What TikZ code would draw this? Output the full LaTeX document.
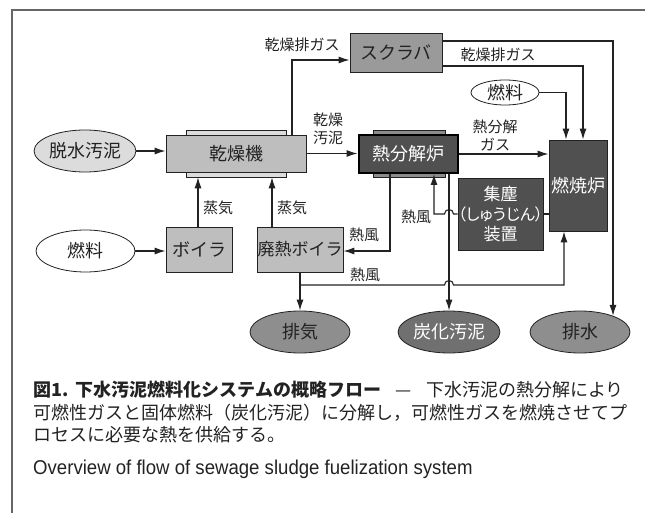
\documentclass[tikz,border=0pt]{standalone}
\usepackage{fontspec}
\usetikzlibrary{arrows.meta,shapes.geometric}
\newfontfamily\jp{Noto Sans CJK JP}
\newfontfamily\jpp[RawFeature=+palt]{Noto Sans CJK JP}
\newfontfamily\en[FakeStretch=0.93]{Liberation Sans}
\definecolor{cLight}{HTML}{BEBEBE}
\definecolor{cPale}{HTML}{DCDCDC}
\definecolor{cMid}{HTML}{9A9A9A}
\definecolor{cDark}{HTML}{505050}
\definecolor{cOut}{HTML}{8C8C8C}
\definecolor{cEll}{HTML}{8E8E8E}
\definecolor{cEllD}{HTML}{707070}
\definecolor{cInk}{HTML}{222222}
\definecolor{cFrame}{HTML}{666666}
\tikzset{
  base/.style={draw=cInk, line width=0.8pt, inner sep=0pt, text=cInk,
    font=\jp\fontsize{18}{20}\selectfont},
  lightbox/.style={base, rectangle, fill=cLight},
  midbox/.style={base, rectangle, fill=cMid},
  darkbox/.style={base, rectangle, fill=cDark, text=white},
  outerbox/.style={draw=cInk, line width=0.6pt, rectangle, inner sep=0pt},
  ell/.style={base, ellipse, minimum width=99pt, minimum height=42pt},
  arr/.style={-{Latex[length=11pt,width=7pt]}, line width=1.1pt, draw=cInk},
  plain/.style={line width=1.1pt, draw=cInk},
  lbl/.style={font=\jp\fontsize{15}{18}\selectfont, text=cInk, inner sep=0pt, align=center},
  captext/.style={anchor=west, inner sep=0pt, text=cInk, font=\jp\fontsize{18}{21}\selectfont}
}
\begin{document}
\begin{tikzpicture}[x=1pt,y=-1pt]
\useasboundingbox (0,0) rectangle (645,513);
% frame
\draw[line width=1.3pt, draw=cFrame] (12,513) -- (12,10) -- (645,10);

% outer rectangles
\node[outerbox, fill=cPale, minimum width=100pt, minimum height=47pt] (kouter) at (236,153.5) {};
\node[outerbox, fill=cOut, minimum width=72pt, minimum height=47pt] (nouter) at (409,153.5) {};

% boxes
\node[lightbox, minimum width=140pt, minimum height=37pt] (kansoki) at (236,153.5) {乾燥機};
\node[midbox, minimum width=92pt, minimum height=39pt] (scrub) at (396,52.5) {スクラバ};
\node[darkbox, line width=2pt, draw=black, minimum width=99pt, minimum height=38pt] (netsubun) at (408,154) {熱分解炉};
\node[darkbox, minimum width=58pt, minimum height=91pt] (nensho) at (578,185.5) {燃焼炉};
\node[darkbox, minimum width=85pt, minimum height=72pt, align=center,
  font=\jp\fontsize{17}{20}\selectfont] (shujin) at (500.5,214)
  {集塵\\{\jpp\fontsize{16}{20}\selectfont（しゅうじん）}\\装置};
\node[lightbox, minimum width=66pt, minimum height=45pt] (boiler) at (199,249.5) {ボイラ};
\node[lightbox, minimum width=86pt, minimum height=45pt, font=\jp\fontsize{17}{20}\selectfont] (haiboiler) at (300,249.5) {廃熱ボイラ};

% ellipses
\node[ell, fill=cPale] (dassui) at (85,151) {脱水汚泥};
\node[ell, fill=white] (nenryo2) at (85.5,251) {燃料};
\node[ell, fill=white, minimum width=68pt, minimum height=25pt] (nenryo1) at (505,92.5) {燃料};
\node[ell, fill=cEll, minimum width=100pt] (haiki) at (300,332) {排気};
\node[ell, fill=cEllD, text=white, minimum width=100pt] (tanka) at (449,332) {炭化汚泥};
\node[ell, fill=cEll, minimum width=100pt] (haisui) at (580,332) {排水};

% helper coordinates
\coordinate (rc) at (613,41);
\coordinate (h1) at (449,214);
\coordinate (a9) at (434,214);
\coordinate (b16) at (300,285);
\coordinate (h2) at (449,285);
\coordinate (c16) at (564,285);

% connectors
\draw[arr] (dassui.east) -- (dassui.east -| kansoki.west);
\draw[arr] ([xshift=56pt]kansoki.north) |- ([yshift=-7.5pt]scrub.west);
\draw[arr] (kansoki.east) -- (kansoki.east -| netsubun.west);
\draw[arr] ([yshift=11.5pt]scrub.east) -- (rc) -- (rc |- haisui.26);
\draw[arr] ([yshift=-13.5pt]scrub.east) -| ([xshift=5pt]nensho.north);
\draw[arr] (nenryo1.east) -| ([xshift=-12pt]nensho.north);
\draw[arr] (netsubun.east) -- (netsubun.east -| nensho.west);
\draw[plain] (shujin.east) -- (shujin.east -| nensho.west);
\draw[arr] (shujin.west) -- ([xshift=4.5pt]h1) arc[start angle=0,end angle=180,radius=4.5pt] -- (a9) -- (a9 |- netsubun.south);
\draw[arr] ([xshift=-18pt]netsubun.south) |- ([yshift=-1.5pt]haiboiler.east);
\draw[arr] ([xshift=41pt]netsubun.south) -- (tanka.north);
\draw[arr] ([xshift=-1pt]boiler.north) -- ([xshift=-1pt]boiler.north |- kouter.south);
\draw[arr] ([xshift=-28pt]haiboiler.north) -- ([xshift=-28pt]haiboiler.north |- kouter.south);
\draw[arr] (nenryo2.east) -- (nenryo2.east -| boiler.west);
\draw[arr] (haiboiler.south) -- (haiki.north);
\draw[arr] (b16) -- ([xshift=-4.5pt]h2) arc[start angle=180,end angle=0,radius=4.5pt] -- (c16) -- (c16 |- nensho.south);

% labels
\node[lbl] (l1) at (302,45) {乾燥排ガス};
\node[lbl] (l2) at (498,55) {乾燥排ガス};
\node[lbl] (l3) at (328,129) {乾燥\\汚泥};
\node[lbl] (l4) at (495,135.5) {熱分解\\ガス};
\node[lbl] (l5) at (218,208) {蒸気};
\node[lbl] (l6) at (292,208) {蒸気};
\node[lbl] (l7) at (364,235) {熱風};
\node[lbl] (l8) at (365,275) {熱風};
\node[lbl] (l9) at (416,217) {熱風};

% caption
\node[captext] (cap1) at (33,390) {{\bfseries 図1.\hspace{0.4em}下水汚泥燃料化システムの概略フロー}\hspace{0.8em}—\hspace{0.8em}下水汚泥の熱分解により};
\node[captext] (cap2) at (33,413) {可燃性ガスと固体燃料（炭化汚泥）に分解し，可燃性ガスを燃焼させてプ};
\node[captext] (cap3) at (33,435) {ロセスに必要な熱を供給する。};
\node[captext, font=\en\fontsize{20}{22}\selectfont] (cap4) at (33,469) {Overview of flow of sewage sludge fuelization system};
\end{tikzpicture}
\end{document}
